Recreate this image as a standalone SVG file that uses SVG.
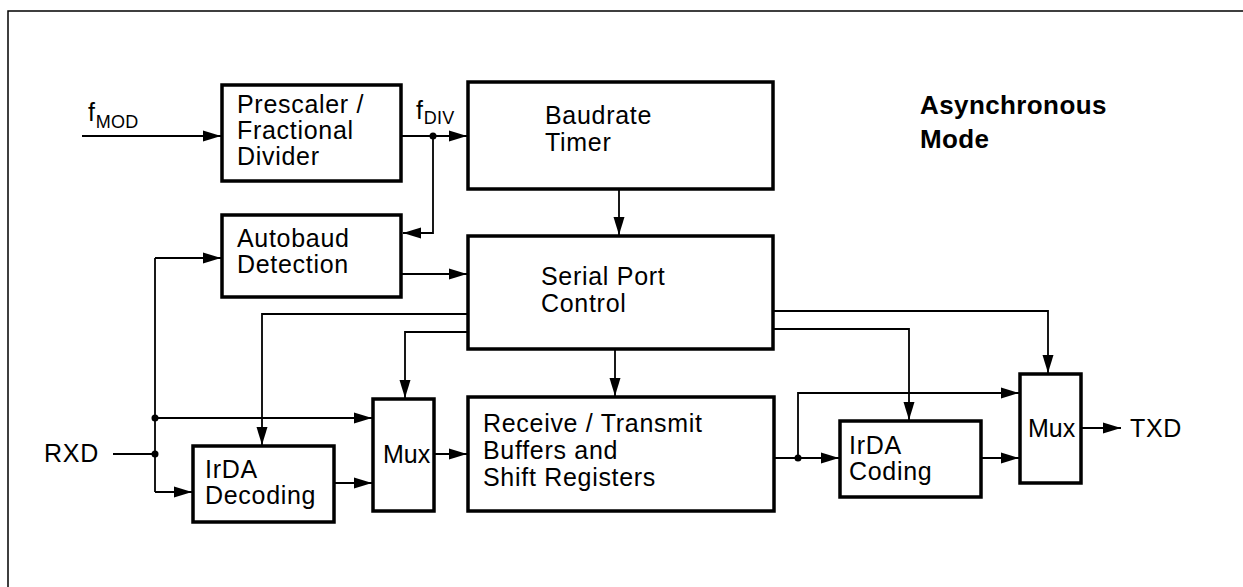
<svg xmlns="http://www.w3.org/2000/svg" width="1243" height="587" viewBox="0 0 1243 587">
<style>
.box{fill:#fff;stroke:#000;stroke-width:3.5}
.t{font-family:"Liberation Sans",Arial,sans-serif;font-size:25px;letter-spacing:0.7px;fill:#000}
.s{font-size:18px;letter-spacing:0.3px}
.b{font-weight:bold;font-size:26px;letter-spacing:0.4px}
.c{fill:none;stroke:#000;stroke-width:1.8}
.d{fill:#000}
</style>
<defs>
<marker id="ah" markerUnits="userSpaceOnUse" markerWidth="19" markerHeight="13" refX="18" refY="6.5" orient="auto">
<path d="M0,1 L18,6.5 L0,12 z" fill="#000"/>
</marker>
</defs>
<rect width="1243" height="587" fill="#fff"/>
<path d="M8,587 V11 H1243" fill="none" stroke="#000" stroke-width="1.5"/>
<g id="connectors">
<path class="c" d="M82,136 H221" marker-end="url(#ah)"/>
<path class="c" d="M402,136 H467" marker-end="url(#ah)"/>
<path class="c" d="M433,136 V233 H403" marker-end="url(#ah)"/>
<path class="c" d="M113,454 H155"/>
<path class="c" d="M155,258 V492"/>
<path class="c" d="M155,258 H221" marker-end="url(#ah)"/>
<path class="c" d="M155,418 H372" marker-end="url(#ah)"/>
<path class="c" d="M155,492 H192" marker-end="url(#ah)"/>
<path class="c" d="M401,274 H467" marker-end="url(#ah)"/>
<path class="c" d="M619,189 V235" marker-end="url(#ah)"/>
<path class="c" d="M468,314 H262 V445" marker-end="url(#ah)"/>
<path class="c" d="M468,332 H405 V398" marker-end="url(#ah)"/>
<path class="c" d="M334,483 H372" marker-end="url(#ah)"/>
<path class="c" d="M434,454 H467" marker-end="url(#ah)"/>
<path class="c" d="M615,349 V396" marker-end="url(#ah)"/>
<path class="c" d="M774,458 H839" marker-end="url(#ah)"/>
<path class="c" d="M798,458 V393 H1019" marker-end="url(#ah)"/>
<path class="c" d="M773,311 H1048 V373" marker-end="url(#ah)"/>
<path class="c" d="M773,329 H909 V420" marker-end="url(#ah)"/>
<path class="c" d="M981,458 H1019" marker-end="url(#ah)"/>
<path class="c" d="M1081,428 H1121" marker-end="url(#ah)"/>
<circle class="d" cx="433" cy="136" r="3.5"/>
<circle class="d" cx="155" cy="418" r="3.5"/>
<circle class="d" cx="155" cy="454" r="3.5"/>
<circle class="d" cx="798" cy="458" r="3.5"/>
</g>
<g id="fmod"><text class="t" x="88" y="121">f<tspan class="s" dy="7">MOD</tspan></text></g>
<g id="fdiv"><text class="t" x="416" y="119">f<tspan class="s" dy="5">DIV</tspan></text></g>
<g id="prescaler"><rect class="box" x="222" y="85" width="179" height="96"/>
<text class="t" x="237" y="113">Prescaler /</text><text class="t" x="237" y="139">Fractional</text><text class="t" x="237" y="165">Divider</text></g>
<g id="baudrate"><rect class="box" x="468" y="82" width="305" height="107"/>
<text class="t" x="545" y="124">Baudrate</text><text class="t" x="545" y="151">Timer</text></g>
<g id="autobaud"><rect class="box" x="222" y="215" width="179" height="82"/>
<text class="t" x="237" y="247">Autobaud</text><text class="t" x="237" y="273">Detection</text></g>
<g id="serial"><rect class="box" x="468" y="236" width="305" height="113"/>
<text class="t" x="541" y="285">Serial Port</text><text class="t" x="541" y="312">Control</text></g>
<g id="irdadec"><rect class="box" x="193" y="446" width="141" height="76"/>
<text class="t" x="205" y="478">IrDA</text><text class="t" x="205" y="504">Decoding</text></g>
<g id="mux1"><rect class="box" x="373" y="399" width="61" height="112"/>
<text class="t" x="383" y="463" style="letter-spacing:0">Mux</text></g>
<g id="buffers"><rect class="box" x="468" y="397" width="306" height="114"/>
<text class="t" x="483" y="432">Receive / Transmit</text><text class="t" x="483" y="459">Buffers and</text><text class="t" x="483" y="486">Shift Registers</text></g>
<g id="irdacod"><rect class="box" x="840" y="421" width="141" height="76"/>
<text class="t" x="849" y="454">IrDA</text><text class="t" x="849" y="480">Coding</text></g>
<g id="mux2"><rect class="box" x="1020" y="374" width="61" height="109"/>
<text class="t" x="1028" y="437" style="letter-spacing:0">Mux</text></g>
<g id="rxd"><text class="t" x="44" y="462">RXD</text></g>
<g id="txd"><text class="t" x="1130" y="437">TXD</text></g>
<g id="mode"><text class="t b" x="920" y="114">Asynchronous</text><text class="t b" x="920" y="148">Mode</text></g>
</svg>
